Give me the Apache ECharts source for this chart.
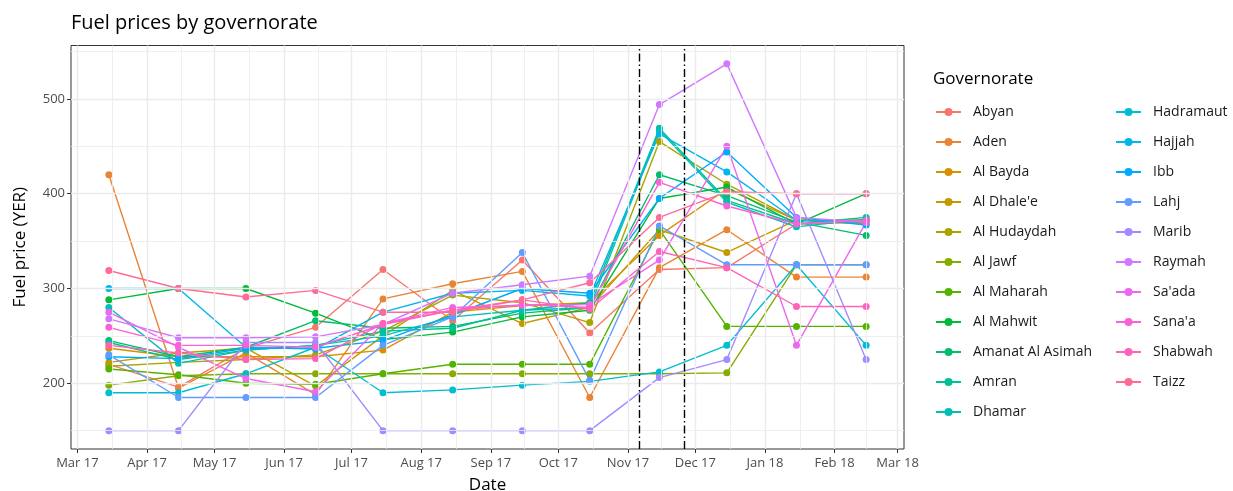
<!DOCTYPE html>
<html>
<head>
<meta charset="utf-8">
<script src="https://cdn.jsdelivr.net/npm/echarts@6/dist/echarts.min.js"></script>
<style>
  html, body { margin: 0; padding: 0; background: #fff; }
  #chart { width: 1233px; height: 491px; }
</style>
</head>
<body>
<div id="chart"></div>
<script>
// survey months (mid-month)
const dates = ['2017-03-15', '2017-04-15', '2017-05-15', '2017-06-15', '2017-07-15', '2017-08-15',
  '2017-09-15', '2017-10-15', '2017-11-15', '2017-12-15', '2018-01-15', '2018-02-15'];

const names = ['Abyan', 'Aden', 'Al Bayda', "Al Dhale'e", 'Al Hudaydah', 'Al Jawf', 'Al Maharah',
  'Al Mahwit', 'Amanat Al Asimah', 'Amran', 'Dhamar', 'Hadramaut', 'Hajjah', 'Ibb', 'Lahj',
  'Marib', 'Raymah', "Sa'ada", "Sana'a", 'Shabwah', 'Taizz'];

// fuel price (YER) per governorate
const abyan      = [220, 196, 237, 259, 320, 266, 330, 253, 320, 322, 368, 370];
const aden       = [420, 195, 232, 188, 289, 305, 318, 185, 322, 362, 312, 312];
const alBayda    = [237, 228, 228, 228, 235, 275, 282, 285, 356, 405, 372, 372];
const alDhalee   = [222, 232, 237, 197, 250, 298, 263, 280, 362, 338, 372, 372];
const alHudaydah = [218, 222, 225, 230, 255, 293, 285, 264, 455, 410, 372, 368];
const alJawf     = [198, 208, 210, 210, 210, 210, 210, 210, 210, 211, 325, 325];
const alMaharah  = [215, 209, 200, 199, 210, 220, 220, 220, 362, 260, 260, 260];
const alMahwit   = [288, 300, 300, 274, 246, 254, 270, 277, 395, 407, 368, 400];
const amanat     = [245, 228, 238, 266, 258, 260, 274, 280, 420, 398, 370, 356];
const amran      = [243, 225, 235, 240, 255, 258, 277, 285, 469, 393, 368, 375];
const dhamar     = [280, 221, 235, 240, 250, 270, 277, 280, 467, 391, 365, 373];
const hadramaut  = [190, 190, 210, 238, 190, 193, 198, 202, 212, 240, 325, 240];
const hajjah     = [300, 300, 238, 236, 275, 295, 298, 292, 463, 423, 372, 370];
const ibb        = [228, 226, 237, 237, 245, 272, 300, 295, 395, 444, 375, 367];
const lahj       = [230, 185, 185, 185, 240, 270, 338, 203, 366, 325, 325, 325];
const marib      = [150, 150, 243, 243, 150, 150, 150, 150, 206, 225, 400, 225];
const raymah     = [268, 248, 248, 249, 262, 295, 304, 313, 494, 537, 375, 370];
const saada      = [275, 238, 205, 191, 263, 280, 282, 283, 330, 450, 240, 370];
const sanaa      = [259, 240, 240, 238, 262, 277, 283, 280, 412, 387, 368, 372];
const shabwah    = [240, 232, 225, 226, 263, 277, 288, 278, 339, 322, 281, 281];
const taizz      = [319, 300, 291, 298, 275, 275, 288, 306, 375, 402, 400, 400];

const values = [abyan, aden, alBayda, alDhalee, alHudaydah, alJawf, alMaharah, alMahwit, amanat,
  amran, dhamar, hadramaut, hajjah, ibb, lahj, marib, raymah, saada, sanaa, shabwah, taizz];

// axis breaks
const monthTicks = ['2017-03-01', '2017-04-01', '2017-05-01', '2017-06-01', '2017-07-01', '2017-08-01',
  '2017-09-01', '2017-10-01', '2017-11-01', '2017-12-01', '2018-01-01', '2018-02-01', '2018-03-01'];
const priceTicks = [200, 300, 400, 500];
const priceMinor = [150, 250, 350, 450, 550];
const eventDates = ['2017-11-06', '2017-11-26'];

const MON = ['Jan', 'Feb', 'Mar', 'Apr', 'May', 'Jun', 'Jul', 'Aug', 'Sep', 'Oct', 'Nov', 'Dec'];
const FONT = 'Open Sans';

// ggplot2 default hue palette (polar Luv -> sRGB)
function hcl(h, c, l) {
  const rad = h * Math.PI / 180;
  const u = c * Math.cos(rad), v = c * Math.sin(rad);
  const Xn = 95.047, Yn = 100, Zn = 108.883;
  const den = Xn + 15 * Yn + 3 * Zn;
  const un = 4 * Xn / den, vn = 9 * Yn / den;
  const Y = Yn * Math.pow((l + 16) / 116, 3);
  const up = u / (13 * l) + un, vp = v / (13 * l) + vn;
  const X = Y * 9 * up / (4 * vp);
  const Z = Y * (12 - 3 * up - 20 * vp) / (4 * vp);
  const x = X / 100, y = Y / 100, z = Z / 100;
  const lin = [
    3.240479 * x - 1.537150 * y - 0.498535 * z,
    -0.969256 * x + 1.875992 * y + 0.041556 * z,
    0.055648 * x - 0.204043 * y + 1.057311 * z
  ];
  return '#' + lin.map(function (c) {
    let g = c <= 0.0031308 ? 12.92 * c : 1.055 * Math.pow(c, 1 / 2.4) - 0.055;
    g = Math.max(0, Math.min(1, g));
    return Math.round(g * 255).toString(16).padStart(2, '0');
  }).join('');
}
const colors = names.map(function (n, i) { return hcl(15 + i * 360 / names.length, 100, 65); });

const t = dates.map(function (d) { return Date.parse(d); });
const monthT = monthTicks.map(function (d) { return Date.parse(d); });
const minorT = monthT.slice(1).map(function (m, i) { return (m + monthT[i]) / 2; });

const xSpan = t[t.length - 1] - t[0];
const allVals = [].concat.apply([], values);
const yLo = Math.min.apply(null, allVals), yHi = Math.max.apply(null, allVals);
const ySpan = yHi - yLo;

function fmtMonth(v) {
  const d = new Date(v);
  return MON[d.getUTCMonth()] + ' ' + String(d.getUTCFullYear()).slice(2);
}

const gridLines = []
  .concat(monthT.map(function (v) { return { xAxis: v, lineStyle: { color: '#EBEBEB', width: 1.4, type: 'solid' } }; }))
  .concat(minorT.map(function (v) { return { xAxis: v, lineStyle: { color: '#EBEBEB', width: 0.8, type: 'solid' } }; }))
  .concat(priceTicks.map(function (v) { return { yAxis: v, lineStyle: { color: '#EBEBEB', width: 1.4, type: 'solid' } }; }))
  .concat(priceMinor.map(function (v) { return { yAxis: v, lineStyle: { color: '#EBEBEB', width: 0.8, type: 'solid' } }; }));

const series = [{
  type: 'line', name: '_grid', data: [], z: 1, silent: true,
  markLine: { silent: true, symbol: 'none', label: { show: false }, animation: false, data: gridLines }
}];

names.forEach(function (n, i) {
  series.push({
    name: n,
    type: 'line',
    data: t.map(function (d, j) { return [d, values[i][j]]; }),
    symbol: 'circle',
    symbolSize: 7,
    showSymbol: true,
    itemStyle: { color: colors[i] },
    lineStyle: { color: colors[i], width: 1.4 },
    emphasis: { disabled: true },
    z: 2
  });
});

series.push({
  type: 'line', name: '_events', data: [], z: 5, silent: true,
  markLine: {
    silent: true, symbol: 'none', label: { show: false }, animation: false,
    lineStyle: { color: '#000', width: 1.4, type: [8, 3, 1.5, 3] },
    data: eventDates.map(function (d) { return { xAxis: Date.parse(d) }; })
  }
});

// two legend columns, as in the original
function legendCol(left, items) {
  return {
    orient: 'vertical', left: left, top: 105, padding: 0,
    itemWidth: 25, itemHeight: 10, itemGap: 16,
    textStyle: { fontFamily: FONT, fontSize: 14, color: '#1a1a1a', padding: [0, 0, 0, 7] },
    data: items
  };
}

const chart = echarts.init(document.getElementById('chart'));
chart.setOption({
  animation: false,
  backgroundColor: '#fff',
  textStyle: { fontFamily: FONT },
  title: {
    text: 'Fuel prices by governorate',
    left: 71, top: 13, padding: 0,
    textStyle: { fontFamily: FONT, fontSize: 20, fontWeight: 'normal', color: '#000' }
  },
  graphic: [{
    type: 'text', left: 933, top: 71,
    style: { text: 'Governorate', font: '17px "Open Sans"', fill: '#000' }
  }],
  legend: [legendCol(935, names.slice(0, 11)), legendCol(1115, names.slice(11))],
  grid: {
    left: 71, right: 329, top: 45.5, bottom: 42,
    outerBoundsMode: 'none',
    show: true, borderColor: '#333', borderWidth: 1, backgroundColor: 'transparent',
    containLabel: false
  },
  xAxis: {
    type: 'value',
    min: t[0] - 0.05 * xSpan,
    max: t[t.length - 1] + 0.05 * xSpan,
    name: 'Date', nameLocation: 'middle', nameGap: 28,
    nameTextStyle: { fontFamily: FONT, fontSize: 17, color: '#000' },
    axisLine: { show: false },
    axisTick: { show: true, length: 4, lineStyle: { color: '#333' }, customValues: monthT },
    axisLabel: { fontFamily: FONT, fontSize: 13, color: '#4D4D4D', margin: 8, customValues: monthT, formatter: fmtMonth },
    splitLine: { show: false }
  },
  yAxis: {
    type: 'value',
    min: yLo - 0.05 * ySpan,
    max: yHi + 0.05 * ySpan,
    name: 'Fuel price (YER)', nameLocation: 'middle', nameGap: 42, nameRotate: 90,
    nameTextStyle: { fontFamily: FONT, fontSize: 17, color: '#000' },
    axisLine: { show: false },
    axisTick: { show: true, length: 4, lineStyle: { color: '#333' }, customValues: priceTicks },
    axisLabel: { fontFamily: FONT, fontSize: 13, color: '#4D4D4D', margin: 6, customValues: priceTicks },
    splitLine: { show: false }
  },
  series: series
});
</script>
</body>
</html>
